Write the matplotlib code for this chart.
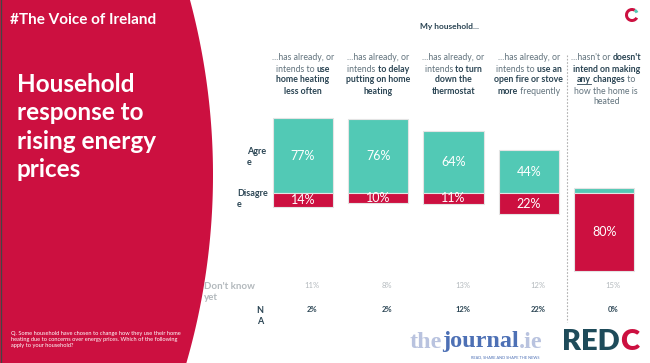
import numpy as np
import matplotlib
matplotlib.use("Agg")
import matplotlib.pyplot as plt
from matplotlib.offsetbox import TextArea, HPacker, AnnotationBbox
from matplotlib.patches import Wedge
from matplotlib.lines import Line2D
from matplotlib.transforms import IdentityTransform

plt.rcParams['font.family'] = ['Lato', 'DejaVu Sans']

# data
agree = [77, 76, 64, 44, 5]
disagree = [14, 10, 11, 22, 80]
dont_know = [11, 8, 13, 12, 15]
not_applicable = [2, 2, 12, 22, 0]

# column headers: one list of (text, bold) pieces per line
headers = [
    [[("...has already, or", False)], [("intends to ", False), ("use", True)],
     [("home heating", True)], [("less often", True)]],
    [[("...has already, or", False)], [("intends ", False), ("to delay", True)],
     [("putting on home", True)], [("heating", True)]],
    [[("...has already, or", False)], [("intends ", False), ("to turn", True)],
     [("down the", True)], [("thermostat", True)]],
    [[("...has already, or", False)], [("intends to ", False), ("use an", True)],
     [("open fire or stove", True)], [("more", True), (" frequently", False)]],
    [[("...hasn't or ", False), ("doesn't", True)], [("intend on making", True)],
     [("any", True), (" changes", True), (" to", False)],
     [("how the home is", False)], [("heated", False)]],
]

RED = '#cc1040'
TEAL = '#52c9b5'
DARK = '#2b4554'
MID = '#62737d'
LIGHT = '#b3b9bd'

W, H = 650, 363
fig = plt.figure(figsize=(6.5, 3.63), dpi=100)
fig.patch.set_facecolor('white')

# overlay axes in pixel coordinates (y down)
ax0 = fig.add_axes([0, 0, 1, 1])
ax0.set_xlim(0, W)
ax0.set_ylim(H, 0)
ax0.axis('off')

# red side panel with curved edge
yy = np.linspace(0, H, 200)
xx = -464 + np.sqrt(677 ** 2 - (yy - 175) ** 2)
ax0.fill(np.r_[0, xx, 0], np.r_[0, yy, H], color=RED, lw=0, zorder=0)
ax0.plot([0.5, 0.5], [0, H], color='#444444', lw=1)

ax0.text(10, 20, "#The Voice of Ireland", color='white', fontsize=11,
         fontweight='bold', va='center')
ax0.text(17, 127, "Household\nresponse to\nrising energy\nprices", color='white',
         fontsize=17.5, fontweight='bold', va='center', linespacing=1.28)
ax0.text(11, 340, "Q. Some household have chosen to change how they use their home\n"
         "heating due to concerns over energy prices. Which of the following\n"
         "apply to your household?", color='white', fontsize=4.1, va='center',
         linespacing=1.25)

# bar area
x0, step = 303, 75.3
base_y, px_per = 193, 0.97
top_px, bot_px = 100, 280
ax = fig.add_axes([(x0 - 0.5 * step) / W, (H - bot_px) / H, 5 * step / W,
                   (bot_px - top_px) / H])
ax.set_xlim(-0.5, 4.5)
ax.set_ylim(-(bot_px - base_y) / px_per, (base_y - top_px) / px_per)
ax.axis('off')

pos = np.arange(len(agree))
ax.bar(pos, agree, width=0.8, color=TEAL, edgecolor='#e4e4e4', lw=0.8)
ax.bar(pos, [-d for d in disagree], width=0.8, color=RED, edgecolor='#e4e4e4', lw=0.8)
for i in pos:
    if agree[i] >= 10:
        ax.text(i, agree[i] / 2, f"{agree[i]}%", color='white', fontsize=9,
                ha='center', va='center')
    ax.text(i, -disagree[i] / 2, f"{disagree[i]}%", color='white', fontsize=9,
            ha='center', va='center')

# dotted separator before last column
sep_x = x0 + 3.5 * step
ax0.plot([sep_x, sep_x], [55, 322], color='#b0b0b0', lw=0.8, ls=(0, (1.5, 1.5)))

ax0.text(450, 27, "My household...", color=DARK, fontsize=6, fontweight='bold',
         ha='center', va='center')


def rich_line(x, y, parts, align=(0.5, 0.5)):
    # parts: (text, textprops) pieces laid side by side on one baseline
    areas = [TextArea(t, textprops=p) for t, p in parts]
    pack = HPacker(children=areas, align='baseline', pad=0, sep=0)
    ab = AnnotationBbox(pack, (x, y), xycoords='data', frameon=False,
                        box_alignment=align, pad=0)
    ax0.add_artist(ab)
    return areas


def head_props(bold):
    return dict(color=DARK if bold else MID, fontsize=6.3,
                fontweight='bold' if bold else 'normal')


underline_area = None
for i, lines in enumerate(headers):
    cx = x0 + i * step + (2 if i == 4 else 0)
    for j, parts in enumerate(lines):
        areas = rich_line(cx, 58 + j * 11, [(t, head_props(b)) for t, b in parts])
        if i == 4 and j == 2:
            underline_area = areas[0]

# row labels
ax0.text(247, 157, "Agre\ne", color=DARK, fontsize=6.5, fontweight='bold',
         va='center', linespacing=1.25)
ax0.text(237, 199, "Disagre\ne", color=DARK, fontsize=6.5, fontweight='bold',
         va='center', linespacing=1.25)
ax0.text(204, 292, "Don't know\nyet", color=LIGHT, fontsize=7, fontweight='bold',
         va='center', linespacing=1.3)
ax0.text(260, 316, "N\nA", color=DARK, fontsize=6.5, fontweight='bold',
         ha='center', va='center', linespacing=1.2)

for i in pos:
    vx = x0 + i * step + 9
    ax0.text(vx, 286, f"{dont_know[i]}%", color=LIGHT, fontsize=5.5,
             ha='center', va='center')
    ax0.text(vx, 310, f"{not_applicable[i]}%", color=DARK, fontsize=5.5,
             fontweight='bold', ha='center', va='center')

# logos
serif = dict(fontsize=17.5, fontweight='bold', family='Liberation Serif')
rich_line(410, 342, [("the", dict(color='#b9c3df', **serif)),
                     ("journal", dict(color='#4d70b5', **serif)),
                     (".ie", dict(color='#b9c3df', **serif))], align=(0, 0.5))
ax0.text(505, 357, "READ, SHARE AND SHAPE THE NEWS", color='#4d70b5',
         fontsize=2.8, ha='center', va='center')
sans = dict(fontsize=21, fontweight='heavy')
rich_line(562, 342, [("RED", dict(color='#1e4b5a', **sans)),
                     ("C", dict(color=RED, **sans))], align=(0, 0.5))

# small icon top right
ax0.add_patch(Wedge((632, 15), 7, 30, 300, width=3, color=RED, lw=0))
ax0.add_patch(Wedge((632, 15), 7, 300, 335, width=3, color=TEAL, lw=0))

# underline "any"
fig.canvas.draw()
if underline_area is not None:
    bb = underline_area.get_window_extent(fig.canvas.get_renderer())
    fig.add_artist(Line2D([bb.x0, bb.x1], [bb.y0 + 0.5, bb.y0 + 0.5],
                          transform=IdentityTransform(), color=DARK, lw=0.6))

fig.savefig("out.png", dpi=100)
